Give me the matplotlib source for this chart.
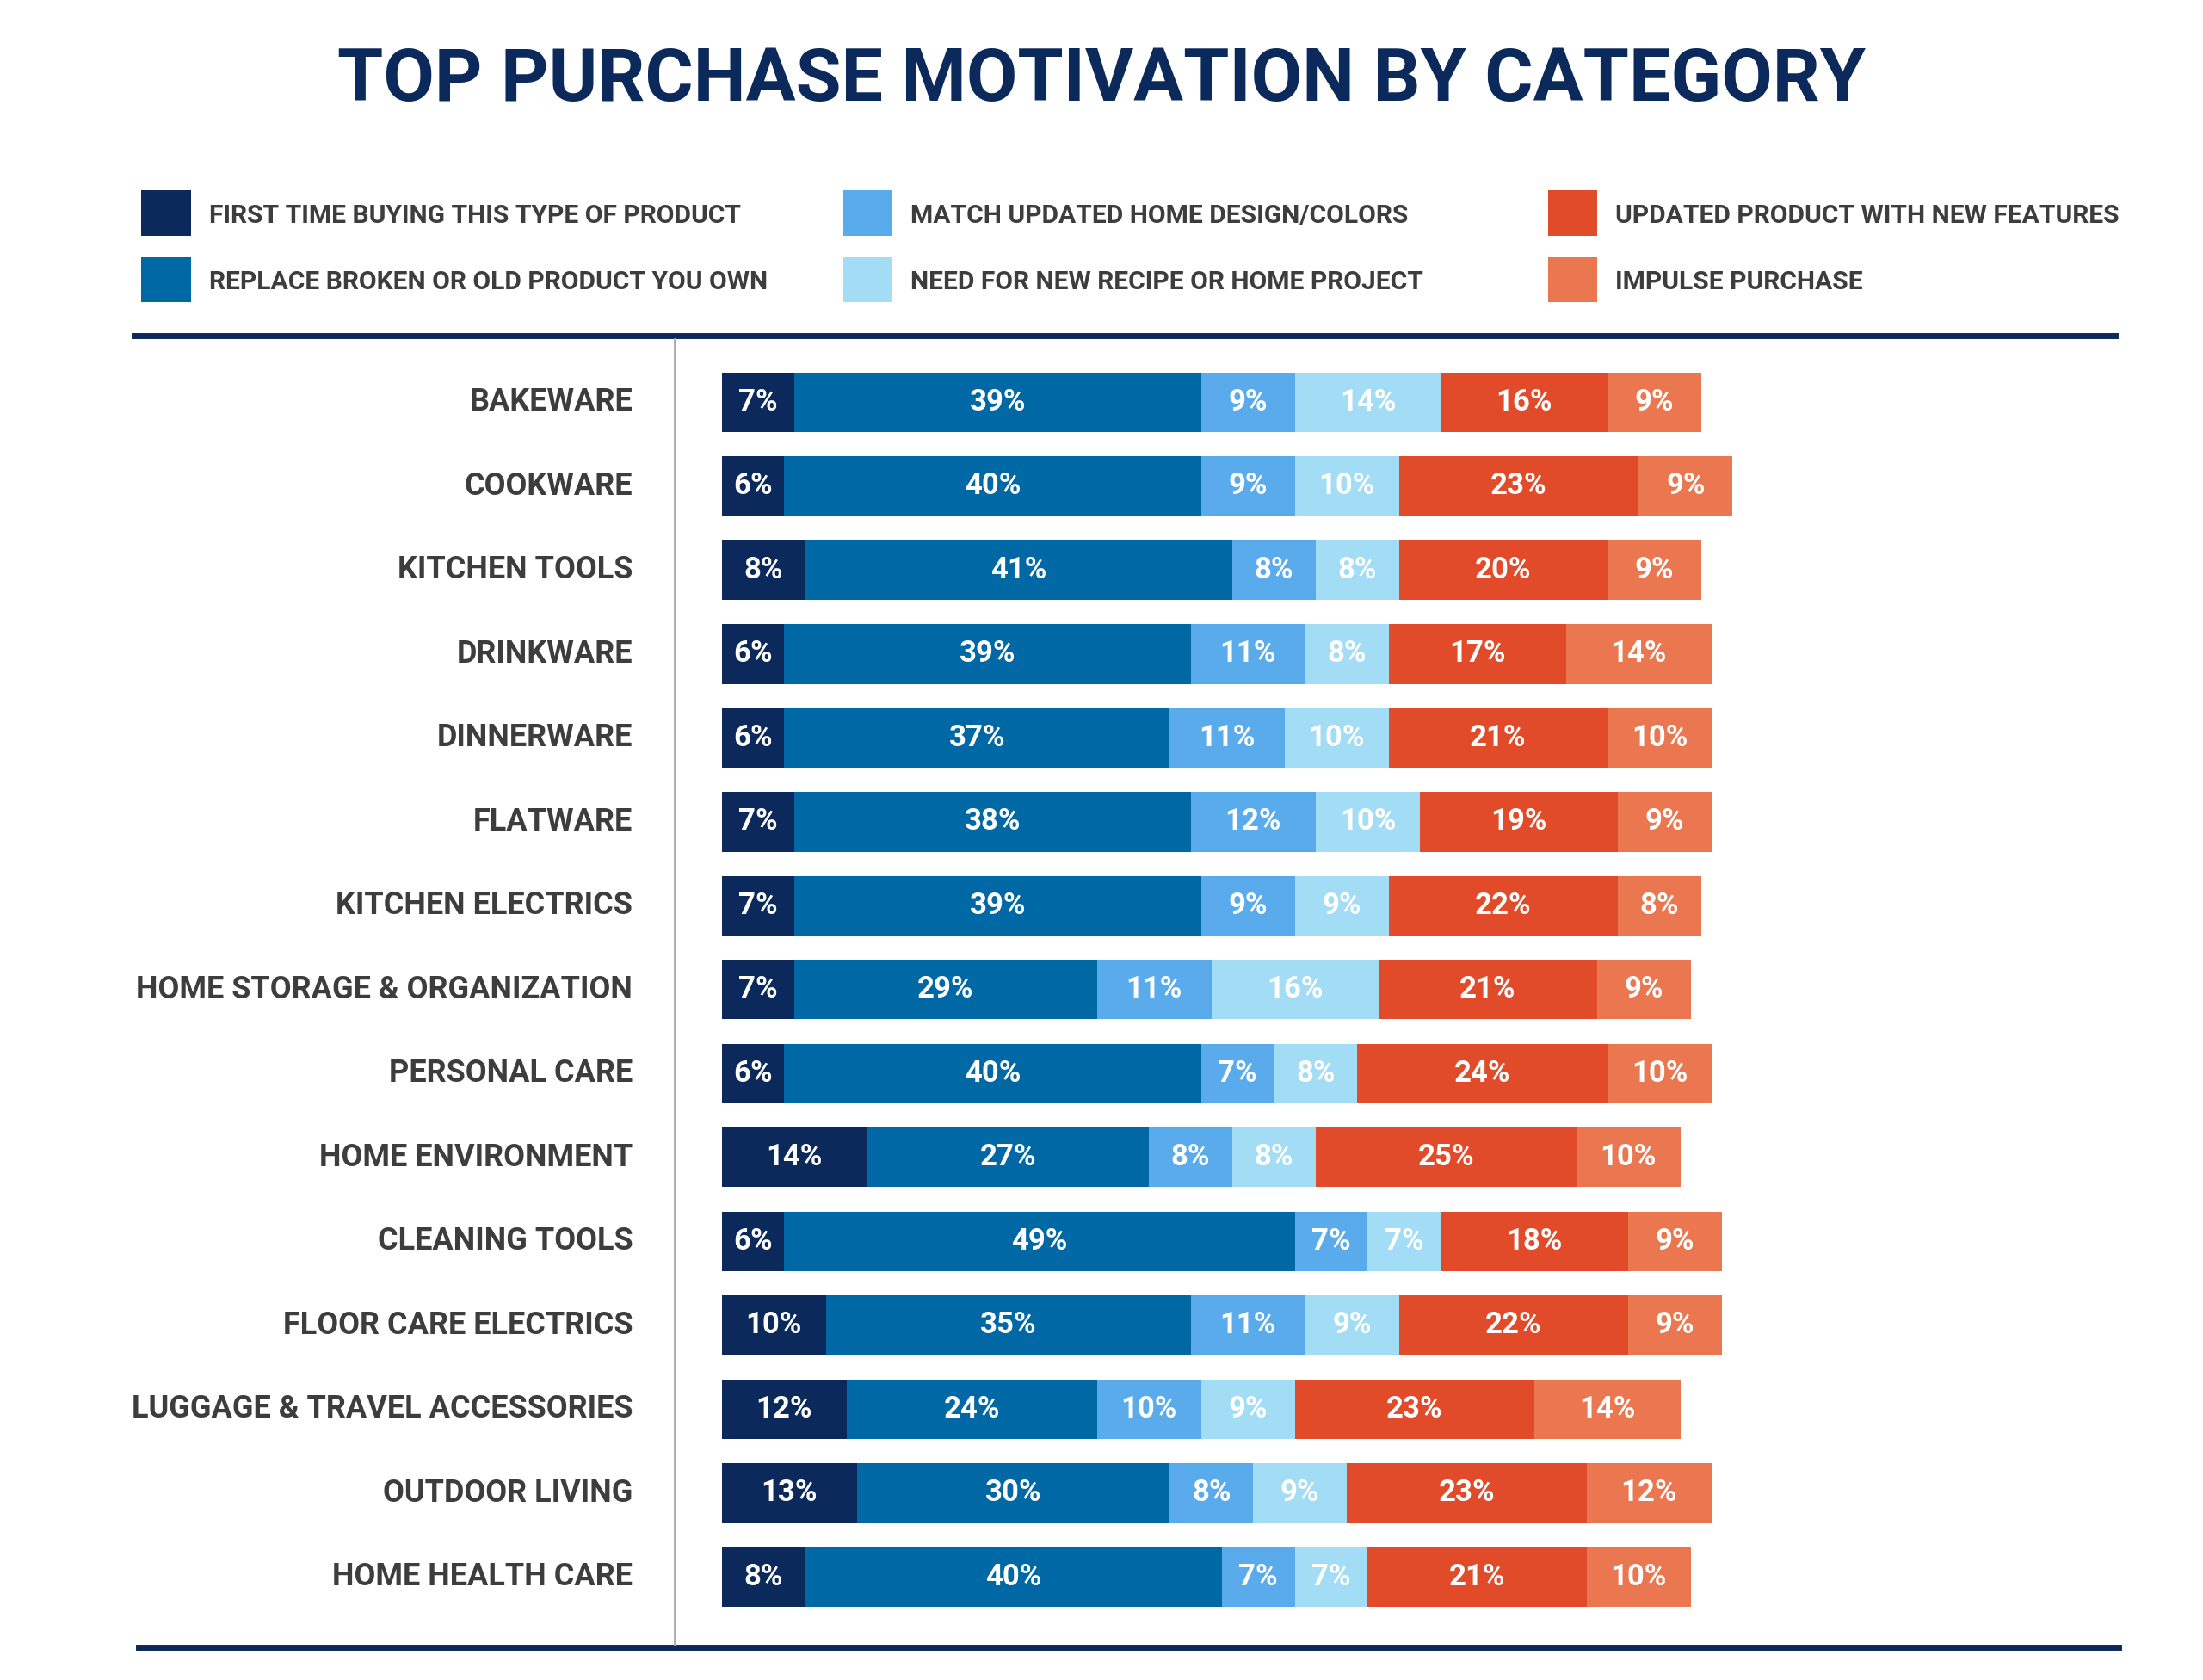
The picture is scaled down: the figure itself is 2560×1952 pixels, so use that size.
import numpy as np
import matplotlib
matplotlib.use('Agg')
import matplotlib.pyplot as plt
from matplotlib.patches import Rectangle
from matplotlib.lines import Line2D

categories = ["BAKEWARE", "COOKWARE", "KITCHEN TOOLS", "DRINKWARE", "DINNERWARE", "FLATWARE",
              "KITCHEN ELECTRICS", "HOME STORAGE & ORGANIZATION", "PERSONAL CARE", "HOME ENVIRONMENT",
              "CLEANING TOOLS", "FLOOR CARE ELECTRICS", "LUGGAGE & TRAVEL ACCESSORIES", "OUTDOOR LIVING",
              "HOME HEALTH CARE"]
first_time = [7, 6, 8, 6, 6, 7, 7, 7, 6, 14, 6, 10, 12, 13, 8]
replace = [39, 40, 41, 39, 37, 38, 39, 29, 40, 27, 49, 35, 24, 30, 40]
match_design = [9, 9, 8, 11, 11, 12, 9, 11, 7, 8, 7, 11, 10, 8, 7]
new_recipe = [14, 10, 8, 8, 10, 10, 9, 16, 8, 8, 7, 9, 9, 9, 7]
new_features = [16, 23, 20, 17, 21, 19, 22, 21, 24, 25, 18, 22, 23, 23, 21]
impulse = [9, 9, 9, 14, 10, 9, 8, 9, 10, 10, 9, 9, 14, 12, 10]

series_names = ["FIRST TIME BUYING THIS TYPE OF PRODUCT", "REPLACE BROKEN OR OLD PRODUCT YOU OWN",
                "MATCH UPDATED HOME DESIGN/COLORS", "NEED FOR NEW RECIPE OR HOME PROJECT",
                "UPDATED PRODUCT WITH NEW FEATURES", "IMPULSE PURCHASE"]
colors = ["#0b2a5b", "#0068a5", "#5aabeb", "#a2ddf5", "#e24b2a", "#eb7750"]

W, H = 1560.0, 1190.0
fx = lambda x: x / W
fy = lambda y: 1 - y / H
navy = "#0b2a5b"
gray = "#3d3d3d"
plt.rcParams['font.family'] = ['Roboto', 'DejaVu Sans']

fig = plt.figure(figsize=(12.8, 9.76), dpi=200)

fig.text(0.5, fy(57), "TOP PURCHASE MOTIVATION BY CATEGORY", ha='center', va='center',
         fontsize=31, fontweight='bold', color=navy)

# legend
leg_pos = [(100, 151), (100, 198), (597, 151), (597, 198), (1096, 151), (1096, 198)]
for (lx, ly), name, c in zip(leg_pos, series_names, colors):
    fig.patches.append(Rectangle((fx(lx), fy(ly + 16)), fx(35), 32 / H, transform=fig.transFigure,
                                 facecolor=c, edgecolor='none'))
    fig.text(fx(lx + 48), fy(ly + 2), name, ha='left', va='center', fontsize=10.8,
             fontweight='bold', color=gray)

fig.add_artist(Line2D([fx(95), fx(1498)], [fy(238), fy(238)], color=navy, lw=2.5, transform=fig.transFigure))
fig.add_artist(Line2D([fx(98), fx(1500)], [fy(1167), fy(1167)], color=navy, lw=2.5, transform=fig.transFigure))
fig.add_artist(Line2D([fx(478), fx(478)], [fy(240), fy(1165)], color="#aaaaaa", lw=1, transform=fig.transFigure))

# bars
top_c, bot_c = 285, 1117
step = (bot_c - top_c) / 14
ax = fig.add_axes([fx(511), fy(bot_c + step / 2), fx(738), (bot_c - top_c + step) / H])
ax.set_xlim(0, 100)
ax.set_ylim(len(categories) - 0.5, -0.5)
ax.axis('off')
y = np.arange(len(categories))
left = np.zeros(len(categories))
for vals, c in zip([first_time, replace, match_design, new_recipe, new_features, impulse], colors):
    vals = np.array(vals)
    ax.barh(y, vals, left=left, height=0.71, color=c, edgecolor='none')
    for yi, v, l in zip(y, vals, left):
        ax.text(l + v / 2, yi, f"{v}%", ha='center', va='center', color='white',
                fontsize=12.5, fontweight='bold')
    left += vals

for yi, cat in zip(y, categories):
    fig.text(fx(448), fy(top_c + yi * step), cat, ha='right', va='center', fontsize=13,
             fontweight='bold', color=gray)

fig.savefig("out.png", dpi=200)
